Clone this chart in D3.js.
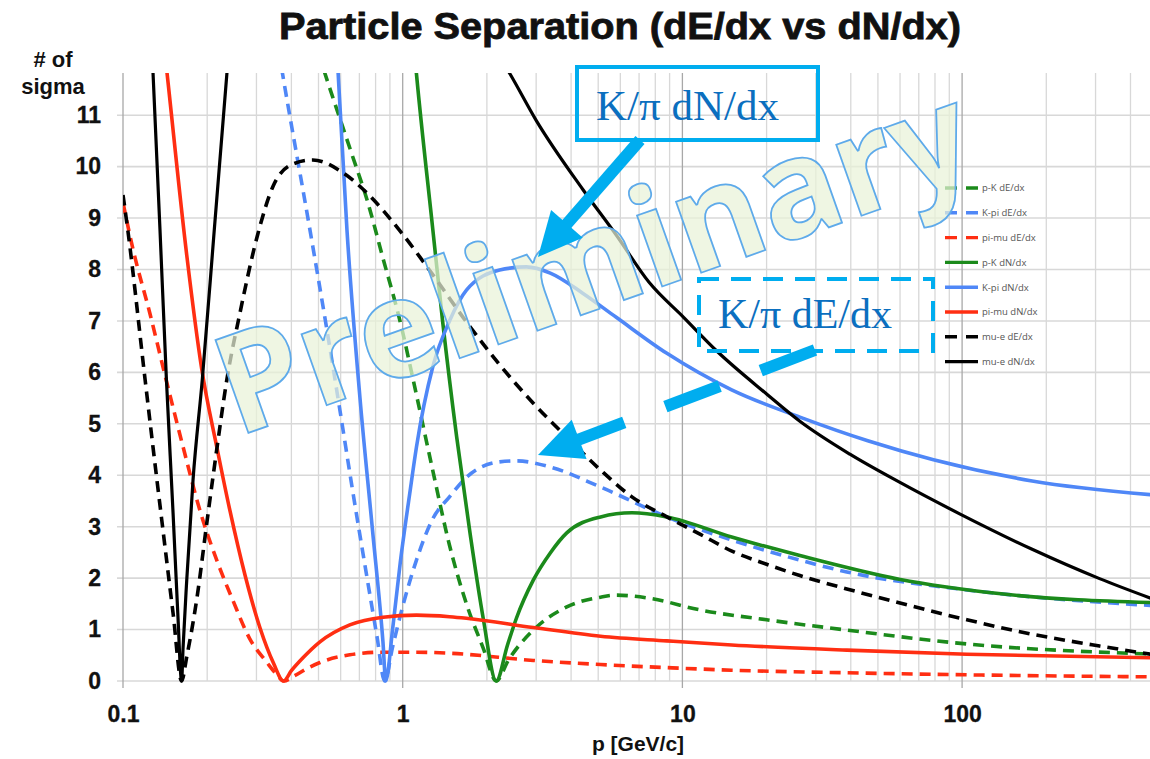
<!DOCTYPE html>
<html lang="en">
<head>
<meta charset="UTF-8">
<title>Particle Separation</title>
<script src="https://cdnjs.cloudflare.com/ajax/libs/d3/7.8.5/d3.min.js"></script>
<style>
  body { margin: 0; background: #fff; }
  svg { display: block; }
  .axis text { font-family: "Liberation Sans", Arial, sans-serif; font-weight: bold; font-size: 23px; fill: #111; stroke: #111; stroke-width: 0.3px; }
  .axis path { display: none; }
  .legend text { font-family: "Open Sans", "DejaVu Sans", sans-serif; font-size: 9.5px; fill: #555; }
</style>
</head>
<body>
<svg id="chart" width="1150" height="759"></svg>
<script>
// momentum (GeV/c) and separation (# of sigma)
const pKdE_p = [0.5, 0.528, 0.66, 0.746, 0.85, 0.98, 1.12, 1.28, 1.47, 1.69, 1.94, 2.16, 2.39, 2.93, 3.86, 5.1, 5.8, 7.6, 11.6, 20, 38.7, 104, 500];
const pKdE_s = [12.2, 11.8, 10.22, 9.35, 8.22, 6.98, 5.56, 4.1, 2.64, 1.5, 0.64, 0, 0.41, 0.99, 1.44, 1.63, 1.67, 1.61, 1.38, 1.19, 0.99, 0.72, 0.52];

const kpidE_p = [0.36, 0.372, 0.466, 0.535, 0.597, 0.66, 0.746, 0.81, 0.862, 0.92, 1.0, 1.12, 1.28, 1.47, 1.69, 2.22, 2.55, 3.37, 5.1, 8.8, 15, 26.3, 38.7, 104, 500];
const kpidE_s = [12.26, 11.8, 8.77, 6.85, 5.25, 3.75, 2.0, 0.85, 0, 0.66, 1.45, 2.35, 3.15, 3.58, 3.96, 4.26, 4.28, 4.16, 3.77, 3.19, 2.74, 2.35, 2.12, 1.77, 1.46];

const pimudE_p = [0.1, 0.108, 0.125, 0.143, 0.164, 0.189, 0.217, 0.247, 0.284, 0.327, 0.355, 0.375, 0.41, 0.454, 0.506, 0.647, 0.85, 1.12, 1.47, 2.93, 5.1, 8.8, 15, 38.7, 104, 500];
const pimudE_s = [9.3, 8.45, 7.13, 5.83, 4.55, 3.29, 2.33, 1.57, 0.82, 0.36, 0.12, 0, 0.1, 0.24, 0.36, 0.51, 0.56, 0.56, 0.54, 0.4, 0.32, 0.26, 0.21, 0.16, 0.12, 0.08];

const pKdN_p = [1.09, 1.12, 1.28, 1.39, 1.56, 1.74, 1.94, 2.16, 2.37, 2.55, 2.93, 3.37, 3.86, 5.1, 6.6, 8.8, 15, 26.3, 59.5, 135, 500];
const pKdN_s = [12.5, 11.8, 8.8, 6.98, 4.74, 2.88, 1.22, 0, 0.7, 1.22, 1.96, 2.49, 2.88, 3.19, 3.27, 3.19, 2.8, 2.44, 1.98, 1.7, 1.52];

const kpidN_p = [0.575, 0.588, 0.632, 0.703, 0.78, 0.85, 0.87, 0.92, 0.98, 1.06, 1.12, 1.28, 1.47, 1.69, 2.22, 2.77, 3.37, 4.4, 5.8, 8.8, 15, 26.3, 46, 79, 178, 500];
const kpidN_s = [12.8, 11.8, 8.77, 5.52, 2.93, 0.76, 0, 1.0, 2.3, 3.65, 4.55, 6.1, 7.0, 7.6, 7.99, 8.05, 7.93, 7.54, 7.07, 6.37, 5.66, 5.13, 4.67, 4.3, 3.89, 3.61];

const pimudN_p = [0.14, 0.1437, 0.169, 0.191, 0.217, 0.241, 0.273, 0.309, 0.345, 0.375, 0.4, 0.44, 0.506, 0.647, 0.85, 1.12, 1.47, 1.69, 2.93, 5.1, 8.8, 15, 38.7, 104, 500];
const pimudN_s = [12.39, 11.82, 8.28, 6.08, 4.52, 3.32, 2.06, 1.03, 0.35, 0, 0.2, 0.45, 0.76, 1.09, 1.24, 1.28, 1.25, 1.22, 1.04, 0.87, 0.78, 0.7, 0.6, 0.52, 0.45];

const muedE_p = [0.1, 0.104, 0.12, 0.128, 0.139, 0.151, 0.162, 0.169, 0.184, 0.2, 0.217, 0.235, 0.2618, 0.3038, 0.344, 0.405, 0.477, 0.612, 0.763, 0.978, 1.3, 1.69, 2.22, 2.93, 3.86, 5.1, 6.6, 8.8, 11.6, 15.1, 20, 26.3, 38.7, 59.5, 104, 178, 310, 500];
const muedE_s = [9.45, 8.77, 5.85, 4.55, 2.93, 1.32, 0, 0.47, 1.63, 3.13, 4.55, 5.85, 7.15, 8.7, 9.62, 10.05, 10.13, 9.88, 9.43, 8.75, 7.85, 6.98, 6.15, 5.4, 4.74, 4.1, 3.58, 3.19, 2.85, 2.52, 2.27, 2.05, 1.79, 1.52, 1.19, 0.91, 0.68, 0.5];

// null = curve is far above the plot between the two branches
const muedN_p = [0.125, 0.1356, 0.143, 0.151, 0.157, 0.162, 0.164, 0.169, 0.178, 0.192, 0.212, 0.24, 1.0, 2.3, 2.42, 3.0, 4.4, 5.8, 7.6, 10.1, 13.3, 20, 26.3, 39.7, 59.5, 98, 178, 310, 500];
const muedN_s = [13.1, 8.77, 5.85, 3.27, 1.32, 0, 0.66, 1.96, 3.91, 5.85, 8.77, 12.4, null, 12.0, 11.8, 10.9, 9.56, 8.67, 7.75, 7.07, 6.41, 5.58, 5.05, 4.41, 3.87, 3.25, 2.56, 1.99, 1.56];

const seriesNames = ["p-K dE/dx", "K-pi dE/dx", "pi-mu dE/dx", "p-K dN/dx", "K-pi dN/dx", "pi-mu dN/dx", "mu-e dE/dx", "mu-e dN/dx"];
const xTicks = [0.1, 1, 10, 100];
const yTicks = [0, 1, 2, 3, 4, 5, 6, 7, 8, 9, 10, 11];

const series = [
  { name: seriesNames[0], p: pKdE_p, s: pKdE_s, color: "#1b8a1b", dashed: true },
  { name: seriesNames[1], p: kpidE_p, s: kpidE_s, color: "#4f87f7", dashed: true },
  { name: seriesNames[2], p: pimudE_p, s: pimudE_s, color: "#ff2e12", dashed: true },
  { name: seriesNames[3], p: pKdN_p, s: pKdN_s, color: "#1b8a1b", dashed: false },
  { name: seriesNames[4], p: kpidN_p, s: kpidN_s, color: "#4f87f7", dashed: false },
  { name: seriesNames[5], p: pimudN_p, s: pimudN_s, color: "#ff2e12", dashed: false },
  { name: seriesNames[6], p: muedE_p, s: muedE_s, color: "#000", dashed: true },
  { name: seriesNames[7], p: muedN_p, s: muedN_s, color: "#000", dashed: false }
];

const svg = d3.select("#chart");
const plotLeft = 123, plotTop = 73, plotBottom = 681;

const x = d3.scaleLog().domain([0.1, 500]).range([plotLeft, plotLeft + 279.7 * Math.log10(5000)]);
const y = d3.scaleLinear().domain([0, 11.82]).range([plotBottom, plotTop]);

// grid
const minor = [];
[0.1, 1, 10, 100].forEach(dec => {
  for (let k = 1; k <= 9; k++) {
    const v = +(dec * k).toPrecision(3);
    if (v <= 500) minor.push({ v: v, major: k === 1 });
  }
});

svg.append("g").selectAll("line")
  .data(yTicks)
  .join("line")
  .attr("x1", plotLeft - 6).attr("x2", 1150)
  .attr("y1", d => y(d)).attr("y2", d => y(d))
  .attr("stroke", "#d8d8d8").attr("stroke-width", 1.6);

svg.append("g").selectAll("line")
  .data(minor)
  .join("line")
  .attr("x1", d => x(d.v)).attr("x2", d => x(d.v))
  .attr("y1", plotTop).attr("y2", d => d.major ? plotBottom + 7 : plotBottom)
  .attr("stroke", d => d.major ? "#a8a8a8" : "#d8d8d8")
  .attr("stroke-width", 1.3);

// axes (labels only)
svg.append("g")
  .attr("class", "axis")
  .attr("transform", `translate(0,${plotBottom})`)
  .call(d3.axisBottom(x).tickValues(xTicks).tickFormat(d3.format("~g")).tickSize(0).tickPadding(25));

svg.append("g")
  .attr("class", "axis")
  .attr("transform", `translate(${plotLeft},0)`)
  .call(d3.axisLeft(y).tickValues(yTicks).tickSize(0).tickPadding(22));

// curves
svg.append("clipPath").attr("id", "plot-clip")
  .append("rect").attr("x", plotLeft).attr("y", plotTop).attr("width", 1150 - plotLeft).attr("height", plotBottom - plotTop + 8);

const line = d3.line()
  .defined(d => d.s !== null)
  .x(d => x(d.p))
  .y(d => y(d.s))
  .curve(d3.curveMonotoneX);

svg.append("g").attr("clip-path", "url(#plot-clip)")
  .selectAll("path")
  .data(series)
  .join("path")
  .attr("d", d => line(d.p.map((p, i) => ({ p: p, s: d.s[i] }))))
  .attr("fill", "none")
  .attr("stroke", d => d.color)
  .attr("stroke-width", d => d.color === "#000" && !d.dashed ? 3.2 : 3.6)
  .attr("stroke-dasharray", d => d.dashed ? "11,7" : null);

// legend
const legend = svg.append("g").attr("class", "legend").attr("transform", "translate(945,188)");
const item = legend.selectAll("g").data(series).join("g")
  .attr("transform", (d, i) => `translate(0,${i * 24.8})`);
item.append("line")
  .attr("x1", 0).attr("x2", 33).attr("y1", 0).attr("y2", 0)
  .attr("stroke", d => d.color).attr("stroke-width", 3.4)
  .attr("stroke-dasharray", d => d.dashed ? "12,9" : null);
item.append("text").attr("x", 37).attr("dy", "0.35em").text(d => d.name);

// watermark
svg.append("text")
  .attr("transform", "translate(237,437) rotate(-19.5)")
  .attr("font-family", "'Open Sans', 'DejaVu Sans', sans-serif")
  .attr("font-weight", "bold")
  .attr("font-size", 138)
  .attr("textLength", 790)
  .attr("lengthAdjust", "spacingAndGlyphs")
  .attr("fill", "#e9f2d8")
  .attr("fill-opacity", 0.72)
  .attr("stroke", "#5eaaea")
  .attr("stroke-width", 1.8)
  .text("Preliminary");

// titles
svg.append("text")
  .attr("x", 620).attr("y", 39)
  .attr("text-anchor", "middle")
  .attr("font-family", "'Liberation Sans', Arial, sans-serif")
  .attr("font-weight", "bold").attr("font-size", 36)
  .attr("textLength", 682).attr("lengthAdjust", "spacingAndGlyphs")
  .attr("fill", "#111").attr("stroke", "#111").attr("stroke-width", 0.8)
  .text("Particle Separation (dE/dx vs dN/dx)");

const yTitle = svg.append("text")
  .attr("text-anchor", "middle")
  .attr("font-family", "'Liberation Sans', Arial, sans-serif")
  .attr("font-weight", "bold").attr("font-size", 22).attr("fill", "#111");
yTitle.append("tspan").attr("x", 53).attr("y", 67).text("# of");
yTitle.append("tspan").attr("x", 53).attr("y", 94).text("sigma");

svg.append("text")
  .attr("x", 638).attr("y", 751)
  .attr("text-anchor", "middle")
  .attr("font-family", "'Liberation Sans', Arial, sans-serif")
  .attr("font-weight", "bold").attr("font-size", 21).attr("fill", "#111")
  .text("p [GeV/c]");

// annotations
const cyan = "#00adef";
const noteFont = "'Liberation Serif', 'Times New Roman', serif";

function arrow(x0, y0, x1, y1, dashed) {
  const dx = x1 - x0, dy = y1 - y0, len = Math.hypot(dx, dy);
  const ux = dx / len, uy = dy / len, head = 44, half = 21;
  const bx = x1 - ux * head, by = y1 - uy * head;
  svg.append("line")
    .attr("x1", x0).attr("y1", y0).attr("x2", bx + ux * 2).attr("y2", by + uy * 2)
    .attr("stroke", cyan).attr("stroke-width", 12)
    .attr("stroke-dasharray", dashed ? "58,44" : null);
  svg.append("path")
    .attr("d", `M${x1},${y1}L${bx - uy * half},${by + ux * half}L${bx + uy * half},${by - ux * half}Z`)
    .attr("fill", cyan);
}

svg.append("rect").attr("x", 577).attr("y", 67).attr("width", 241).attr("height", 73)
  .attr("fill", "none").attr("stroke", cyan).attr("stroke-width", 4);
svg.append("text").attr("x", 596).attr("y", 120)
  .attr("font-family", noteFont).attr("font-size", 43).attr("fill", "#0b6fbf")
  .text("K/\u03c0 dN/dx");

svg.append("rect").attr("x", 699).attr("y", 279).attr("width", 234).attr("height", 72)
  .attr("fill", "none").attr("stroke", cyan).attr("stroke-width", 4)
  .attr("stroke-dasharray", "20,12");
svg.append("text").attr("x", 718).attr("y", 328)
  .attr("font-family", noteFont).attr("font-size", 42).attr("fill", "#0b6fbf")
  .text("K/\u03c0 dE/dx");

arrow(640, 140, 538, 257, false);
arrow(815, 350, 538, 455, true);
</script>
</body>
</html>
